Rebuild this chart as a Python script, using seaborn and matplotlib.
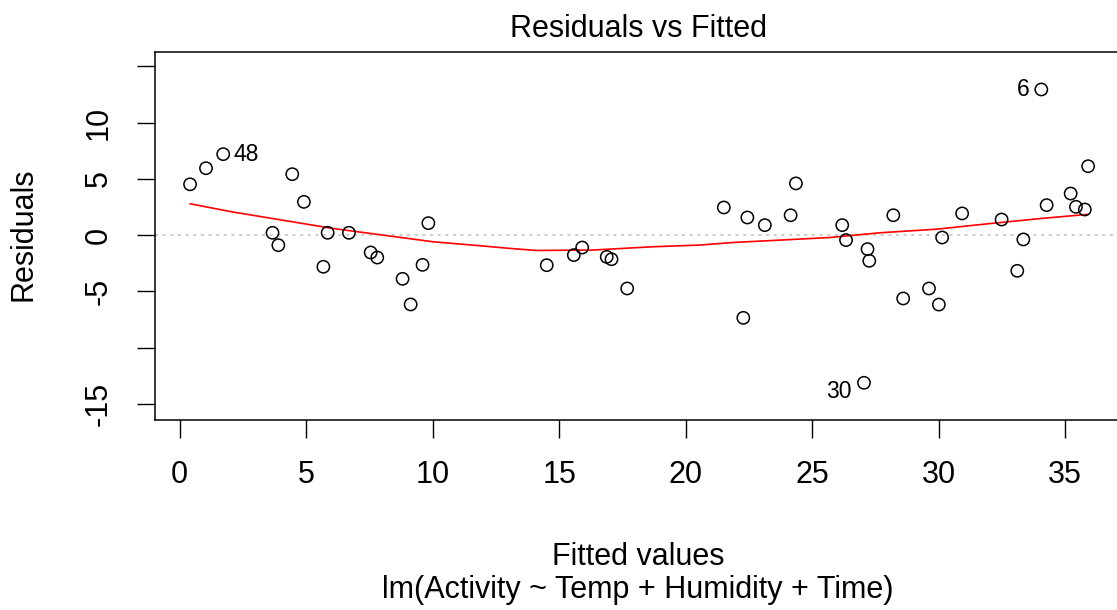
import matplotlib
matplotlib.use("Agg")
import matplotlib.pyplot as plt
import seaborn as sns
import pandas as pd

# ---- data ----
fitted = [0.41, 1.04, 1.72, 4.45, 4.91, 3.67, 3.90, 5.85, 5.68, 6.69, 7.55, 7.81,
          8.81, 9.13, 9.60, 9.83, 14.51, 15.58, 15.91, 16.88, 17.07, 17.69, 21.51,
          22.44, 23.13, 22.28, 24.15, 24.36, 26.19, 26.34, 27.19, 27.26, 27.05,
          28.21, 28.60, 29.62, 30.01, 30.14, 30.93, 32.49, 33.11, 33.35, 34.06,
          34.27, 35.22, 35.43, 35.78, 35.91]
residuals = [4.52, 5.95, 7.20, 5.42, 2.96, 0.21, -0.89, 0.21, -2.81, 0.21, -1.54,
             -1.99, -3.88, -6.16, -2.64, 1.07, -2.67, -1.77, -1.10, -1.93, -2.14,
             -4.74, 2.46, 1.57, 0.89, -7.35, 1.77, 4.60, 0.89, -0.44, -1.24, -2.28,
             -13.12, 1.77, -5.63, -4.74, -6.17, -0.21, 1.93, 1.39, -3.17, -0.38,
             12.95, 2.67, 3.70, 2.52, 2.28, 6.13]
id_labels = ["48", "6", "30"]
id_index = [2, 42, 32]

lowess_x = [0.41, 2.12, 4.10, 6.07, 8.05, 10.02, 11.87, 13.06, 14.11, 16.35, 18.72,
            20.57, 21.88, 23.73, 25.70, 27.68, 29.92, 32.03, 34.00, 35.91]
lowess_y = [2.79, 2.05, 1.32, 0.59, 0.00, -0.59, -0.94, -1.18, -1.36, -1.32, -1.03,
            -0.88, -0.65, -0.44, -0.21, 0.21, 0.53, 1.03, 1.47, 1.85]

x_ticks = [0, 5, 10, 15, 20, 25, 30, 35]
y_ticks = [-15, -10, -5, 0, 5, 10, 15]
y_tick_labels = ["-15", "", "-5", "0", "5", "10", ""]

title = "Residuals vs Fitted"
x_label = "Fitted values"
sub_label = "lm(Activity ~ Temp + Humidity + Time)"
y_label = "Residuals"

# ---- styling ----
sns.set_style("white")
plt.rcParams["font.family"] = ["Liberation Sans", "DejaVu Sans"]
plt.rcParams["text.color"] = "black"
plt.rcParams["axes.labelcolor"] = "black"
plt.rcParams["xtick.color"] = "black"
plt.rcParams["ytick.color"] = "black"

W, H = 1117, 610
fig = plt.figure(figsize=(W / 100, H / 100), dpi=100)
left, right, top, bottom = 155, 1121, 52, 420
ax = fig.add_axes([left / W, (H - bottom) / H, (right - left) / W, (bottom - top) / H])

df = pd.DataFrame({"fitted": fitted, "resid": residuals})
lo = pd.DataFrame({"x": lowess_x, "y": lowess_y})

ax.axhline(0, color="#BEBEBE", lw=1.1, ls=(0, (2, 3)), zorder=1)
sns.lineplot(data=lo, x="x", y="y", color="red", lw=1.2, sort=False,
             estimator=None, ax=ax, zorder=2)
sns.scatterplot(data=df, x="fitted", y="resid", marker="o", s=78,
                facecolor="none", edgecolor="black", linewidth=1.1, ax=ax, zorder=3)

offsets = {"48": (7.2, 0, "left"), "6": (-8.6, 0, "right"), "30": (-8.6, -6.5, "right")}
for lab, i in zip(id_labels, id_index):
    dx, dy, ha = offsets[lab]
    ax.annotate(lab, (fitted[i], residuals[i]), xytext=(dx, dy),
                textcoords="offset points", ha=ha, va="center", fontsize=16.5,
                color="black")

ax.set_xlim(-0.976, 37.21)
ax.set_ylim(-16.43, 16.28)
ax.set_xticks(x_ticks)
ax.set_xticklabels([str(t) for t in x_ticks], fontsize=22)
ax.set_yticks(y_ticks)
ax.set_yticklabels(y_tick_labels, fontsize=22, rotation=90, va="center")
ax.tick_params(axis="x", bottom=True, length=13, width=1, pad=16, color="black",
               labelcolor="black")
ax.tick_params(axis="y", left=True, length=13, width=1, pad=17, color="black",
               labelcolor="black")
ax.set_xlabel("")
ax.set_ylabel("")
for s in ["top", "left", "bottom", "right"]:
    ax.spines[s].set_visible(True)
    ax.spines[s].set_color("black")
    ax.spines[s].set_linewidth(1.1)

cx = (left + right) / 2 / W
fig.text(cx, (H - 37) / H, title, ha="center", va="baseline", fontsize=22, color="black")
fig.text(cx, (H - 565) / H, x_label, ha="center", va="baseline", fontsize=22, color="black")
fig.text(cx, (H - 598) / H, sub_label, ha="center", va="baseline", fontsize=22, color="black")
fig.text(23 / W, (H - 234) / H, y_label, ha="center", va="center",
         rotation=90, fontsize=22, color="black")

fig.savefig("out.png", dpi=100)
